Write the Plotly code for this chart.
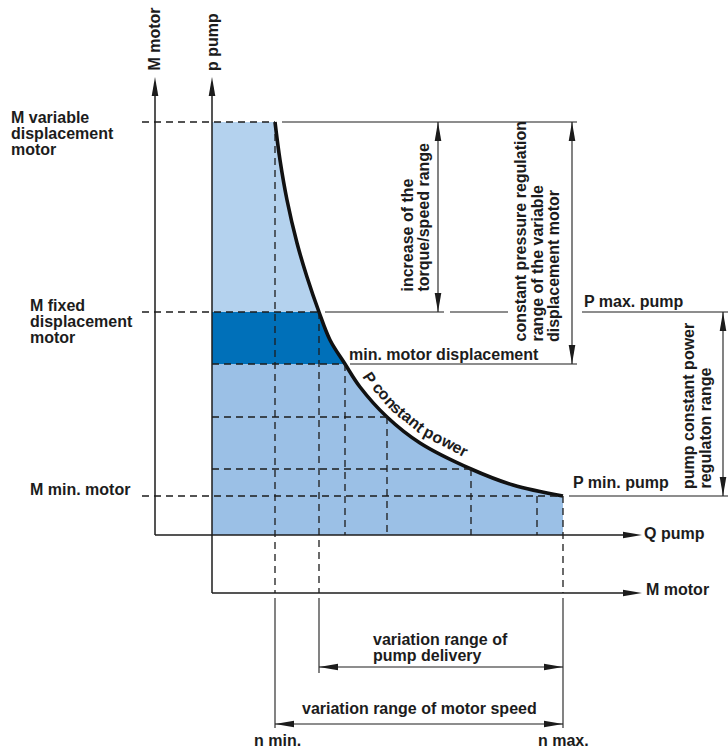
import numpy as np
import plotly.graph_objects as go

# Constant power characteristic: pump delivery Q against pressure p (diagram units)
q_curve = [63, 68, 75, 85, 95, 107, 118, 133, 148, 175, 208, 259, 301, 351]
p_curve = [413, 375, 335, 292, 258, 223, 195, 171, 148, 118, 92, 66, 50, 39]

# Characteristic torque / pressure levels
m_variable = 413          # M variable displacement motor (p max. of the motor)
m_fixed = 223             # M fixed displacement motor / P max. pump
m_min_displacement = 171  # min. motor displacement
m_min = 39                # M min. motor / P min. pump

# Speed / delivery marks
n_min = 63
q_fixed = 107
n_max = 351

# Intermediate working points of the grid (Q, p) lying on the characteristic
grid_q = [133, 175, 259, 325]
grid_q_top = [171, 118, 66, 39]
grid_p = [171, 118, 66]
grid_p_end = [133, 175, 259]

# ---------------------------------------------------------------- styling
INK = "#1c1c1c"
LIGHT = "rgb(180,210,238)"
DARK = "rgb(0,112,185)"
MEDIUM = "rgb(155,192,230)"
FONT = dict(family="Liberation Sans, Arial, sans-serif", size=16, color=INK, weight="bold")

# axis geometry of the drawing (diagram units, 1 unit = 1 px)
X_MOTOR_AXIS = -57
Y_MOTOR_AXIS = -58
AXIS_TIP = 458
AXIS_END = 430

fig = go.Figure()

i_fixed = p_curve.index(m_fixed)
i_mind = p_curve.index(m_min_displacement)

# coloured regions under the constant power curve
fig.add_trace(go.Scatter(
    x=[0] + q_curve[:i_fixed + 1] + [0],
    y=[m_variable] + p_curve[:i_fixed + 1] + [m_fixed],
    fill="toself", fillcolor=LIGHT, mode="lines", line=dict(width=0), hoverinfo="skip"))
fig.add_trace(go.Scatter(
    x=[0] + q_curve[i_fixed:i_mind + 1] + [0],
    y=[m_fixed] + p_curve[i_fixed:i_mind + 1] + [m_min_displacement],
    fill="toself", fillcolor=DARK, mode="lines", line=dict(width=0), hoverinfo="skip"))
fig.add_trace(go.Scatter(
    x=[0] + q_curve[i_mind:] + [n_max, 0],
    y=[m_min_displacement] + p_curve[i_mind:] + [0, 0],
    fill="toself", fillcolor=MEDIUM, mode="lines", line=dict(width=0), hoverinfo="skip"))

shapes = []


def seg(x0, y0, x1, y1, dash=None, width=1.1):
    line = dict(color=INK, width=width)
    if dash:
        line["dash"] = dash
    shapes.append(dict(type="line", xref="x", yref="y", x0=x0, y0=y0, x1=x1, y1=y1,
                       line=line, layer="above"))


def head(x, y, dx, dy, length=19, half=3.3):
    bx, by = x - length * dx, y - length * dy
    nx, ny = -dy * half, dx * half
    path = f"M {x},{y} L {bx + nx},{by + ny} L {bx - nx},{by - ny} Z"
    shapes.append(dict(type="path", xref="x", yref="y", path=path,
                       fillcolor=INK, line=dict(width=0), layer="above"))


DASH = "7px,5px"

# dashed grid of working points
seg(-70, m_variable, n_min, m_variable, DASH, 1.3)
seg(-70, m_fixed, q_fixed, m_fixed, DASH, 1.3)
seg(-70, m_min, n_max, m_min, DASH, 1.3)
for p, q in zip(grid_p, grid_p_end):
    seg(0, p, q, p, DASH, 1.3)
seg(n_min, m_variable, n_min, Y_MOTOR_AXIS, DASH, 1.3)
seg(q_fixed, m_fixed, q_fixed, Y_MOTOR_AXIS, DASH, 1.3)
seg(n_max, m_min, n_max, Y_MOTOR_AXIS, DASH, 1.3)
for q, p in zip(grid_q, grid_q_top):
    seg(q, p, q, 0, DASH, 1.3)

# axes
seg(0, Y_MOTOR_AXIS, 0, AXIS_TIP - 10, width=1.5)
head(0, AXIS_TIP, 0, 1)
seg(X_MOTOR_AXIS, 0, X_MOTOR_AXIS, AXIS_TIP - 10, width=1.5)
head(X_MOTOR_AXIS, AXIS_TIP, 0, 1)
seg(X_MOTOR_AXIS, 0, AXIS_END - 10, 0, width=1.5)
head(AXIS_END, 0, 1, 0)
seg(0, Y_MOTOR_AXIS, AXIS_END - 10, Y_MOTOR_AXIS, width=1.5)
head(AXIS_END, Y_MOTOR_AXIS, 1, 0)

# reference / extension lines
seg(70, m_variable, 365, m_variable)
seg(113, m_fixed, 232, m_fixed)
seg(238, m_fixed, 296, m_fixed)
seg(370, m_fixed, 516, m_fixed)
seg(138, m_min_displacement, 365, m_min_displacement)
seg(357, m_min, 516, m_min)
seg(n_min, -63, n_min, -193)
seg(q_fixed, -63, q_fixed, -138)
seg(n_max, -63, n_max, -193)


def dim_v(x, y0, y1):
    seg(x, y0, x, y1)
    head(x, y0, 0, 1)
    head(x, y1, 0, -1)


def dim_h(y, x0, x1):
    seg(x0, y, x1, y)
    head(x0, y, -1, 0)
    head(x1, y, 1, 0)


dim_v(226, m_variable, m_fixed)
dim_v(360, m_variable, m_min_displacement)
dim_v(511, m_fixed, m_min)
dim_h(-132, q_fixed, n_max)
dim_h(-189, n_min, n_max)

# constant power curve
fig.add_trace(go.Scatter(x=q_curve, y=p_curve, mode="lines",
                         line=dict(color="#111111", width=3.6, shape="spline"),
                         hoverinfo="skip"))

annotations = []


def label(text, x, y, xanchor="left", yanchor="middle", angle=0):
    annotations.append(dict(text=text, x=x, y=y, xref="x", yref="y", showarrow=False,
                            xanchor=xanchor, yanchor=yanchor, textangle=angle,
                            font=FONT, borderpad=0))


# left hand labels
for i, t in enumerate(["M variable", "displacement", "motor"]):
    label(t, -202, 418 - 16 * i)
for i, t in enumerate(["M fixed", "displacement", "motor"]):
    label(t, -183, 230 - 16 * i)
label("M min. motor", -183, 46)

# axis titles
label("M motor", X_MOTOR_AXIS - 1, 463, "center", "bottom", -90)
label("p pump", 0, 463, "center", "bottom", -90)
label("Q pump", 431, 2)
label("M motor", 433, -54)

# right hand labels
label("P max. pump", 371, 234)
label("min. motor displacement", 136, 181)
label("P min. pump", 360, 53)
for x, t in zip([195, 211], ["increase of the", "torque/speed range"]):
    label(t, x, 242, "center", "bottom", -90)
for x, t in zip([308, 325, 341], ["constant pressure regulation", "range of the variable",
                                 "displacement motor"]):
    label(t, x, 192, "center", "bottom", -90)
for x, t in zip([476, 493], ["pump constant power", "regulaton range"]):
    label(t, x, 45, "center", "bottom", -90)

# bottom labels
label("variation range of", 160, -104)
label("pump delivery", 160, -120)
label("variation range of motor speed", 207.5, -173, "center")
label("n min.", n_min + 2, -205, "center")
label("n max.", n_max, -205, "center")

# "P constant power" set along the outside of the curve
ADV = {"P": 667, " ": 278, "c": 556, "o": 611, "n": 611, "s": 556, "t": 333,
       "a": 556, "p": 611, "w": 778, "e": 556, "r": 389}
sx = np.array(q_curve, float)
sy = -np.array(p_curve, float)          # screen-like orientation (y down)
seg_len = np.hypot(np.diff(sx), np.diff(sy))
cum = np.concatenate([[0], np.cumsum(seg_len)])


def along(s):
    k = int(np.clip(np.searchsorted(cum, s) - 1, 0, len(seg_len) - 1))
    t = (s - cum[k]) / seg_len[k]
    dx, dy = np.diff(sx)[k] / seg_len[k], np.diff(sy)[k] / seg_len[k]
    return sx[k] + t * (sx[k + 1] - sx[k]), sy[k] + t * (sy[k + 1] - sy[k]), dx, dy


text = "P constant power"
size = FONT["size"]
k0 = int(np.argmin(np.abs(sx - 146)))
s = cum[k0] + (146 - sx[k0]) - ADV["P"] / 1000 * size / 2
offset = 13
for ch in text:
    w = ADV[ch] / 1000 * size * 1.02
    cx, cy, dx, dy = along(s + w / 2)
    nx, ny = dy, -dx
    if ch != " ":
        ang = float(np.degrees(np.arctan2(dy, dx)))
        annotations.append(dict(text=ch, x=cx + offset * nx, y=-(cy + offset * ny),
                                xref="x", yref="y", showarrow=False, xanchor="center",
                                yanchor="middle", textangle=ang, font=FONT, borderpad=0))
    s += w

fig.update_layout(
    width=728, height=749, margin=dict(l=0, r=0, t=0, b=0),
    paper_bgcolor="white", plot_bgcolor="white", showlegend=False,
    xaxis=dict(range=[-212, 516], visible=False, fixedrange=True),
    yaxis=dict(range=[-214, 535], visible=False, fixedrange=True),
    shapes=shapes, annotations=annotations,
)

fig.write_html("out.html", config={"displayModeBar": False})
